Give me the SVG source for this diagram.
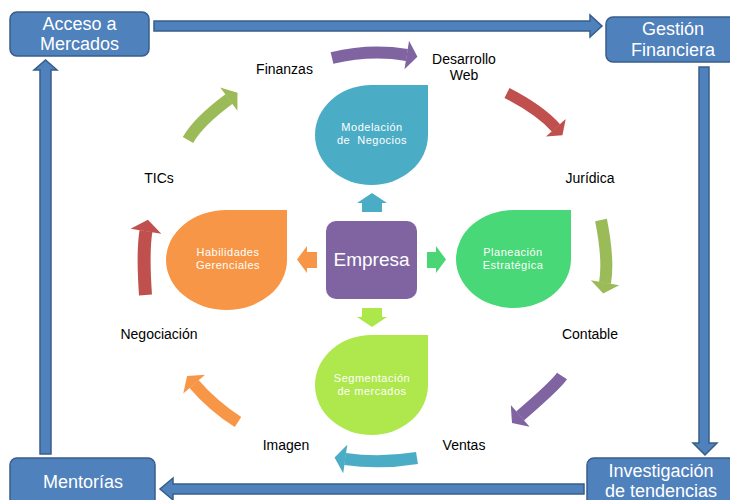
<svg xmlns="http://www.w3.org/2000/svg" width="730" height="500" viewBox="0 0 730 500">
<style>
.box{fill:#4F81BD;stroke:#385D8A;stroke-width:1.5}
.bt{font-family:"Liberation Sans",Arial,sans-serif;font-size:18px;fill:#FFFFFF;text-anchor:middle}
.lbl{font-family:"Liberation Sans",Arial,sans-serif;font-size:14px;fill:#000000;text-anchor:middle}
.dt{font-family:"Liberation Sans",Arial,sans-serif;font-size:11px;letter-spacing:0.5px;fill:#FFFFFF;text-anchor:middle}
.big{fill:#4F81BD;stroke:#385D8A;stroke-width:1.5}
.arc{fill:none;stroke-linecap:butt}
</style>
<defs>
<marker id="mPur" markerUnits="strokeWidth" markerWidth="1" markerHeight="2.4" viewBox="0 -1.2 1 2.4" refX="0.02" refY="0" orient="auto" overflow="visible"><path d="M0,-1.2 L0.9,0 L0,1.2 Z" fill="#8064A2"/></marker>
<marker id="mRed" markerUnits="strokeWidth" markerWidth="1" markerHeight="2.4" viewBox="0 -1.2 1 2.4" refX="0.02" refY="0" orient="auto" overflow="visible"><path d="M0,-1.2 L0.9,0 L0,1.2 Z" fill="#C0504D"/></marker>
<marker id="mOli" markerUnits="strokeWidth" markerWidth="1" markerHeight="2.4" viewBox="0 -1.2 1 2.4" refX="0.02" refY="0" orient="auto" overflow="visible"><path d="M0,-1.2 L0.9,0 L0,1.2 Z" fill="#9BBB59"/></marker>
<marker id="mTea" markerUnits="strokeWidth" markerWidth="1" markerHeight="2.4" viewBox="0 -1.2 1 2.4" refX="0.02" refY="0" orient="auto" overflow="visible"><path d="M0,-1.2 L0.9,0 L0,1.2 Z" fill="#4BACC6"/></marker>
<marker id="mOra" markerUnits="strokeWidth" markerWidth="1" markerHeight="2.4" viewBox="0 -1.2 1 2.4" refX="0.02" refY="0" orient="auto" overflow="visible"><path d="M0,-1.2 L0.9,0 L0,1.2 Z" fill="#F79646"/></marker>
</defs>
<rect width="730" height="500" fill="#FFFFFF"/>

<g id="connectors">
  <!-- outer blue arrows -->
  <polygon class="big" points="154,21 590,21 590,15 602,26 590,37 590,31 154,31"/>
  <polygon class="big" points="699,67 709,67 709,443 717,443 705,455 693,443 699,443"/>
  <polygon class="big" points="584,484 173,484 173,478 160,489 173,500 173,494 584,494"/>
  <polygon class="big" points="40,454 51,454 51,70 57,70 45.5,60 34,70 40,70"/>
  <!-- small arrows from Empresa -->
  <polygon fill="#4BACC6" points="362,212 362,203 357,203 372,193 387,203 382,203 382,212"/>
  <polygon fill="#ADE84B" points="362,308 382,308 382,317 387,317 372,327 357,317 362,317"/>
  <polygon fill="#F79646" points="317,252 307,252 307,246 297,259.5 307,273 307,268 317,268"/>
  <polygon fill="#4BD675" points="427,252 436,252 436,246 446,259.5 436,273 436,268 427,268"/>
  <!-- cycle arrows -->
  <path class="arc" d="M332,58 Q370,49 407,55" stroke="#8064A2" stroke-width="12" marker-end="url(#mPur)"/>
  <path class="arc" d="M507,93 Q540,110 556,128" stroke="#C0504D" stroke-width="11" marker-end="url(#mRed)"/>
  <path class="arc" d="M601,220 Q609,260 605,283" stroke="#9BBB59" stroke-width="12" marker-end="url(#mOli)"/>
  <path class="arc" d="M562,376 Q556,385 520,416" stroke="#8064A2" stroke-width="12" marker-end="url(#mPur)"/>
  <path class="arc" d="M417,458 Q380,464 345,459" stroke="#4BACC6" stroke-width="12" marker-end="url(#mTea)"/>
  <path class="arc" d="M238,422 Q213,406 194,384" stroke="#F79646" stroke-width="12" marker-end="url(#mOra)"/>
  <path class="arc" d="M145.5,295 Q142.5,252 146,231" stroke="#C0504D" stroke-width="13" marker-end="url(#mRed)"/>
  <path class="arc" d="M188,140 Q198,122 229,99" stroke="#9BBB59" stroke-width="12" marker-end="url(#mOli)"/>
</g>

<g id="acceso">
  <rect class="box" x="10" y="12" width="139" height="44" rx="7"/>
  <text class="bt" x="79.5" y="30">Acceso a</text>
  <text class="bt" x="79.5" y="50">Mercados</text>
</g>
<g id="gestion">
  <rect class="box" x="606" y="17" width="132" height="45" rx="7"/>
  <text class="bt" x="673" y="35">Gestión</text>
  <text class="bt" x="673" y="56">Financiera</text>
</g>
<g id="mentorias">
  <rect class="box" x="10" y="458" width="145" height="50" rx="7"/>
  <text class="bt" x="83" y="488">Mentorías</text>
</g>
<g id="investigacion">
  <rect class="box" x="587" y="458" width="150" height="50" rx="7"/>
  <text class="bt" x="661" y="477">Investigación</text>
  <text class="bt" x="661" y="497">de tendencias</text>
</g>

<g id="empresa">
  <rect x="326" y="221" width="91" height="78" rx="10" fill="#8064A2"/>
  <text x="371.5" y="266" font-family="'Liberation Sans',Arial,sans-serif" font-size="19" fill="#FFFFFF" text-anchor="middle">Empresa</text>
</g>

<g id="modelacion">
  <path d="M315,135 A56.5,50 0 0 1 371.5,85 L428,85 L428,135 A56.5,50 0 0 1 371.5,185 A56.5,50 0 0 1 315,135 Z" fill="#4BACC6"/>
  <text class="dt" x="372" y="131">Modelación</text>
  <text class="dt" x="372" y="144" xml:space="preserve">de  Negocios</text>
</g>
<g id="habilidades">
  <path d="M166,260 A60.5,50 0 0 1 226.5,210 L287,210 L287,260 A60.5,50 0 0 1 226.5,310 A60.5,50 0 0 1 166,260 Z" fill="#F79646"/>
  <text class="dt" x="228" y="256">Habilidades</text>
  <text class="dt" x="228" y="269">Gerenciales</text>
</g>
<g id="planeacion">
  <path d="M456,259 A57.5,49 0 0 1 513.5,210 L571,210 L571,259 A57.5,49 0 0 1 513.5,308 A57.5,49 0 0 1 456,259 Z" fill="#48D877"/>
  <text class="dt" x="513" y="256">Planeación</text>
  <text class="dt" x="513" y="269">Estratégica</text>
</g>
<g id="segmentacion">
  <path d="M315,385 A56.5,50 0 0 1 371.5,335 L428,335 L428,385 A56.5,50 0 0 1 371.5,435 A56.5,50 0 0 1 315,385 Z" fill="#AEE84C"/>
  <text class="dt" x="372" y="382">Segmentación</text>
  <text class="dt" x="372" y="395">de mercados</text>
</g>

<g id="finanzas"><text class="lbl" x="284.5" y="74">Finanzas</text></g>
<g id="desarrollo"><text class="lbl" x="464" y="64">Desarrollo</text><text class="lbl" x="464" y="80">Web</text></g>
<g id="juridica"><text class="lbl" x="590" y="183">Jurídica</text></g>
<g id="contable"><text class="lbl" x="590" y="339">Contable</text></g>
<g id="ventas"><text class="lbl" x="464" y="450">Ventas</text></g>
<g id="imagen"><text class="lbl" x="286" y="450">Imagen</text></g>
<g id="negociacion"><text class="lbl" x="159" y="339">Negociación</text></g>
<g id="tics"><text class="lbl" x="159" y="183">TICs</text></g>
</svg>
